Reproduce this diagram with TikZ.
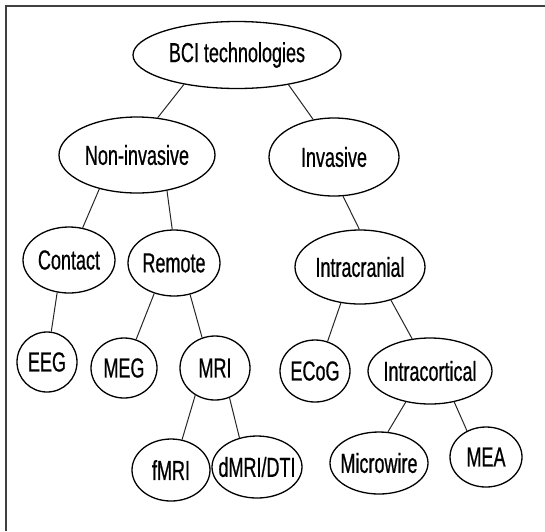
\documentclass[tikz,border=0pt]{standalone}
\usepackage{fontspec}
\setmainfont[FakeStretch=0.655,FakeBold=0.6]{Liberation Sans}
\usetikzlibrary{shapes.geometric}
\begin{document}
\begin{tikzpicture}[x=1pt,y=-1pt,
  oval/.style={ellipse,draw=black,line width=1.3pt,inner sep=-10pt,
    font=\fontsize{27.5}{30}\selectfont},
  link/.style={draw=black!85,line width=1pt},
  frame/.style={draw=black!75,line width=2pt}]
\useasboundingbox (0,0) rectangle (545,531);
\draw[frame] (5.5,531) -- (5.5,5.5) -- (545,5.5);
% level 0
\node[oval,minimum width=208pt,minimum height=67pt] (bci) at (237,55) {BCI technologies};
% level 1
\node[oval,minimum width=156pt,minimum height=76pt] (non) at (137,155) {Non-invasive};
\node[oval,minimum width=130pt,minimum height=78pt] (inv) at (334,157) {Invasive};
% level 2
\node[oval,minimum width=92pt,minimum height=66pt] (con) at (69,260) {Contact};
\node[oval,minimum width=92pt,minimum height=66pt] (rem) at (174,263) {Remote};
\node[oval,minimum width=130pt,minimum height=74pt] (icr) at (360,267) {Intracranial};
% level 3
\node[oval,minimum width=60pt,minimum height=60pt] (eeg) at (47,362) {EEG};
\node[oval,minimum width=66pt,minimum height=60pt] (meg) at (124,368) {MEG};
\node[oval,minimum width=70pt,minimum height=64pt] (mri) at (215,368) {MRI};
\node[oval,minimum width=70pt,minimum height=62pt] (ecog) at (315,371) {ECoG};
\node[oval,minimum width=124pt,minimum height=66pt] (ico) at (430,371) {Intracortical};
% level 4
\node[oval,minimum width=78pt,minimum height=62pt] (fmri) at (171,470) {fMRI};
\node[oval,minimum width=90pt,minimum height=62pt] (dmri) at (257,467) {dMRI/DTI};
\node[oval,minimum width=98pt,minimum height=62pt] (mw) at (379,463) {Microwire};
\node[oval,minimum width=72pt,minimum height=60pt] (mea) at (486,457) {MEA};
% connectors
\draw[link] (bci.209) -- (non.61);
\draw[link] (bci.330) -- (inv.119);
\draw[link] (non.222) -- (con.67);
\draw[link] (non.310) -- (rem.93);
\draw[link] (inv.283) -- (icr.91);
\draw[link] (con.250) -- (eeg.82);
\draw[link] (rem.237) -- (meg.67);
\draw[link] (rem.297) -- (mri.113);
\draw[link] (icr.242) -- (ecog.67);
\draw[link] (icr.313) -- (ico.119);
\draw[link] (mri.234) -- (fmri.70);
\draw[link] (mri.296) -- (dmri.121);
\draw[link] (ico.232) -- (mw.74);
\draw[link] (ico.308) -- (mea.126);
\end{tikzpicture}
\end{document}
